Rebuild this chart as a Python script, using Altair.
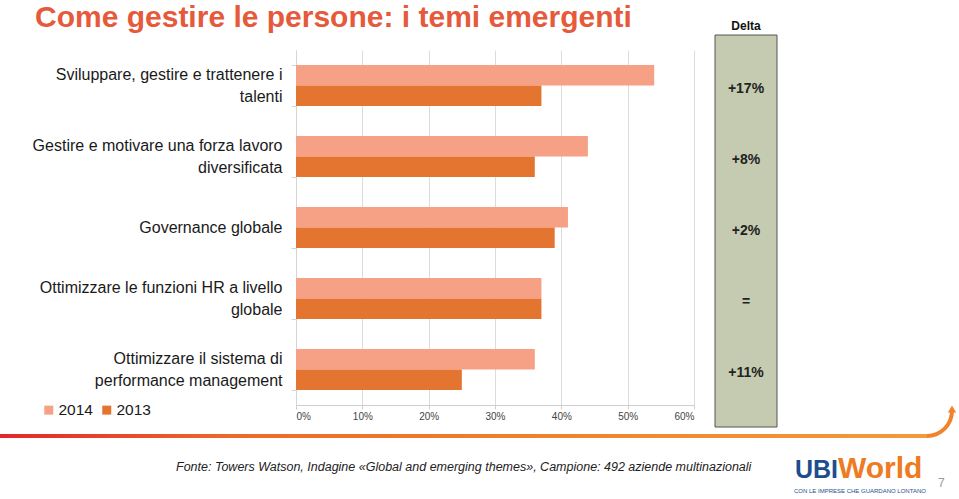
import altair as alt
import pandas as pd

# ---------------- data ----------------
categories = [
    "Sviluppare, gestire e trattenere i|talenti",
    "Gestire e motivare una forza lavoro|diversificata",
    "Governance globale",
    "Ottimizzare le funzioni HR a livello|globale",
    "Ottimizzare il sistema di|performance management",
]
years = ["2014", "2013"]
values_2014 = [54, 44, 41, 37, 36]
values_2013 = [37, 36, 39, 37, 25]
deltas = ["+17%", "+8%", "+2%", "=", "+11%"]
x_ticks = [0, 10, 20, 30, 40, 50, 60]

title_text = "Come gestire le persone: i temi emergenti"
delta_header = "Delta"
source_text = "Fonte: Towers Watson, Indagine «Global and emerging themes», Campione: 492 aziende multinazionali"
logo_a, logo_b = "UBI", "World"
logo_tag = "CON LE IMPRESE CHE GUARDANO LONTANO"
page_no = "7"

# ---------------- tables ----------------
rows = []
for c, a, b in zip(categories, values_2014, values_2013):
    rows.append({"cat": c, "anno": "2014", "val": a})
    rows.append({"cat": c, "anno": "2013", "val": b})
bars_df = pd.DataFrame(rows)
delta_df = pd.DataFrame({"cat": categories, "delta": deltas})
one = pd.DataFrame({"k": [0]})

FONT = "Liberation Sans"
C2014 = "#f6a085"
C2013 = "#e47530"

# plot area: x 296..694, y 50..405 in page pixels
L, T = 296, 50

y_scale = alt.Scale(domain=categories, paddingInner=0.42, paddingOuter=0.21)
y_axis = alt.Axis(
    title=None, labelExpr="split(datum.label, '|')", labelAlign="right",
    labelBaseline="middle",
    labelOffset={"condition": {"test": "indexof(datum.label, '|') >= 0", "value": -11}, "value": 0},
    labelFontSize=16, labelLineHeight=22, labelPadding=9, labelLimit=400,
    labelColor="#1a1a1a", labelFont=FONT, tickBand="extent", tickSize=5,
    tickColor="#d5d5d5", domainColor="#d5d5d5", grid=False,
)

bars = alt.Chart(bars_df).mark_bar().encode(
    x=alt.X(
        "val:Q",
        scale=alt.Scale(domain=[0, 60], nice=False),
        axis=alt.Axis(
            values=x_ticks, labelExpr="datum.value + '%'", title=None,
            grid=True, gridColor="#dcdcdc", domainColor="#cfcfcf",
            tickColor="#cfcfcf", tickSize=4, labelFontSize=10,
            labelColor="#444444", labelPadding=2, labelFont=FONT,
        ),
    ),
    y=alt.Y("cat:N", scale=y_scale, sort=categories, axis=y_axis),
    yOffset=alt.YOffset("anno:N", sort=years,
                        scale=alt.Scale(domain=years, paddingInner=0, paddingOuter=0)),
    color=alt.Color(
        "anno:N", scale=alt.Scale(domain=years, range=[C2014, C2013]),
        legend=alt.Legend(
            title=None, orient="none", legendX=41 - L, legendY=402 - T,
            direction="horizontal", symbolType="square", symbolSize=81,
            symbolStrokeWidth=0, labelFontSize=15.5, labelColor="#1a1a1a",
            labelFont=FONT, columnPadding=6, labelOffset=2, padding=0,
        ),
    ),
)

delta_box = alt.Chart(one).mark_rect(fill="#c5cbb0", stroke="#555555", strokeWidth=1).encode(
    x=alt.value(715 - L), x2=alt.value(777 - L), y=alt.value(35 - T), y2=alt.value(427 - T)
)

delta_text = alt.Chart(delta_df).mark_text(
    fontWeight="bold", fontSize=14, font=FONT, color="#222222", dy=3
).encode(
    x=alt.value(746 - L),
    y=alt.Y("cat:N", scale=y_scale, sort=categories, axis=y_axis),
    text="delta:N",
)

def label(txt, x, y, **kw):
    return alt.Chart(pd.DataFrame({"t": [txt]})).mark_text(font=FONT, **kw).encode(
        x=alt.value(x - L), y=alt.value(y - T), text="t:N"
    )

delta_head = label(delta_header, 746, 26, fontSize=12, fontWeight="bold", color="#111111")
title = label(title_text, 35, 27, fontSize=30, fontWeight="bold", color="#e65a3c",
              align="left", baseline="alphabetic")
source = label(source_text, 176, 467, fontSize=12.5, fontStyle="italic", color="#222222",
               align="left", baseline="middle")
logo1 = label(logo_a, 795, 478, fontSize=25, fontWeight="bold", color="#1e4d8f",
              align="left", baseline="alphabetic")
logo2 = label(logo_b, 838, 478, fontSize=30, fontWeight="bold", color="#ee7a22",
              align="left", baseline="alphabetic")
logo3 = label(logo_tag, 794, 491, fontSize=6, color="#1e4d8f", align="left", baseline="middle")
page = label(page_no, 938, 487, fontSize=12, color="#999999", align="left", baseline="alphabetic")

swoosh = alt.Chart(one).mark_rect(
    fill=alt.LinearGradient(
        gradient="linear", x1=0, x2=1, y1=0, y2=0,
        stops=[alt.GradientStop(color="#e3262c", offset=0),
               alt.GradientStop(color="#ec6a2a", offset=0.25),
               alt.GradientStop(color="#f08a2e", offset=0.7),
               alt.GradientStop(color="#f39a3a", offset=1)],
    )
).encode(x=alt.value(0 - L), x2=alt.value(927 - L), y=alt.value(434 - T), y2=alt.value(438 - T))

swoosh_arc = alt.Chart(one).mark_arc(
    theta=1.5708, theta2=3.1416, innerRadius=23, outerRadius=27, color="#f0832c"
).encode(x=alt.value(927 - L), y=alt.value(411 - T))

swoosh_tip = alt.Chart(one).mark_point(
    shape="triangle-up", filled=True, size=70, color="#f0832c", opacity=1
).encode(x=alt.value(952 - L), y=alt.value(409 - T))

chart = alt.layer(
    delta_box, bars, delta_text, delta_head, title, source,
    logo1, logo2, logo3, page, swoosh, swoosh_arc, swoosh_tip,
).properties(
    width=694 - L, height=405 - T,
    autosize=alt.AutoSizeParams(type="none"),
    padding={"left": L, "top": T, "right": 959 - 694, "bottom": 499 - 405},
    background="white",
).configure_view(strokeWidth=0)

chart.save("out.html", embed_options={"renderer": "svg", "actions": False})
